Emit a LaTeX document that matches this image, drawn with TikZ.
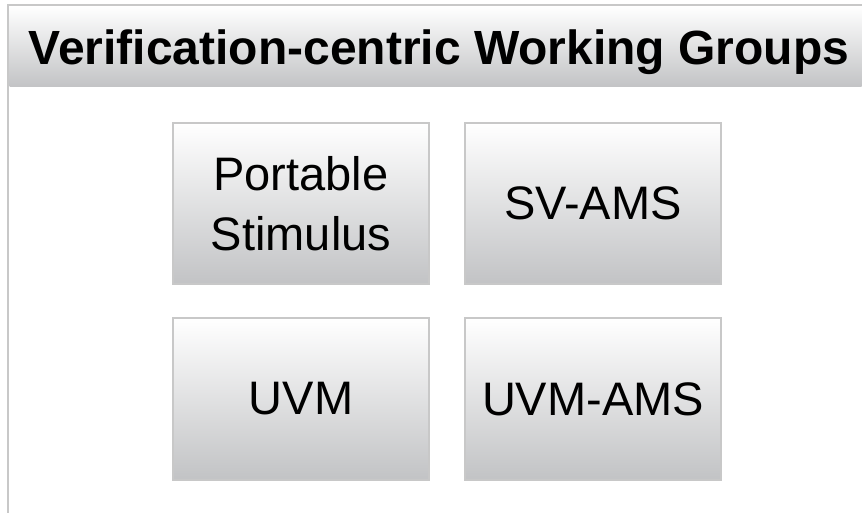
\documentclass[tikz,border=0pt]{standalone}
\usepackage{fontspec}
\setmainfont{Liberation Sans}
\definecolor{framegray}{RGB}{200,200,200}
\definecolor{shadegray}{RGB}{194,195,197}
\tikzset{
  wgbox/.style={draw=framegray, line width=2pt, top color=white, bottom color=shadegray,
    minimum width=256pt, minimum height=161pt, inner sep=0pt, align=center,
    font=\fontsize{47}{59.7}\selectfont},
  titleband/.style={top color=white, bottom color=shadegray, inner sep=0pt,
    minimum width=852pt, minimum height=81pt},
}
\begin{document}
\begin{tikzpicture}[x=1pt,y=-1pt]
\useasboundingbox (0,0) rectangle (863,513);
\fill[white] (0,0) rectangle (863,513);
\node[titleband] (band) at (435.5,46.5) {};
\draw[framegray, line width=2.5pt] (8,520) -- (8,5) -- (862,5);
\node[font=\fontsize{48}{56}\selectfont\bfseries, anchor=base] (title) at (439,65) {Verification-centric Working Groups};
\node[wgbox] (ps) at (301,203.5) {Portable\\Stimulus};
\node[wgbox] (svams) at (593,203.5) {SV-AMS};
\node[wgbox] (uvm) at (301,399) {UVM};
\node[wgbox] (uvmams) at (593,399) {UVM-AMS};
\end{tikzpicture}
\end{document}
